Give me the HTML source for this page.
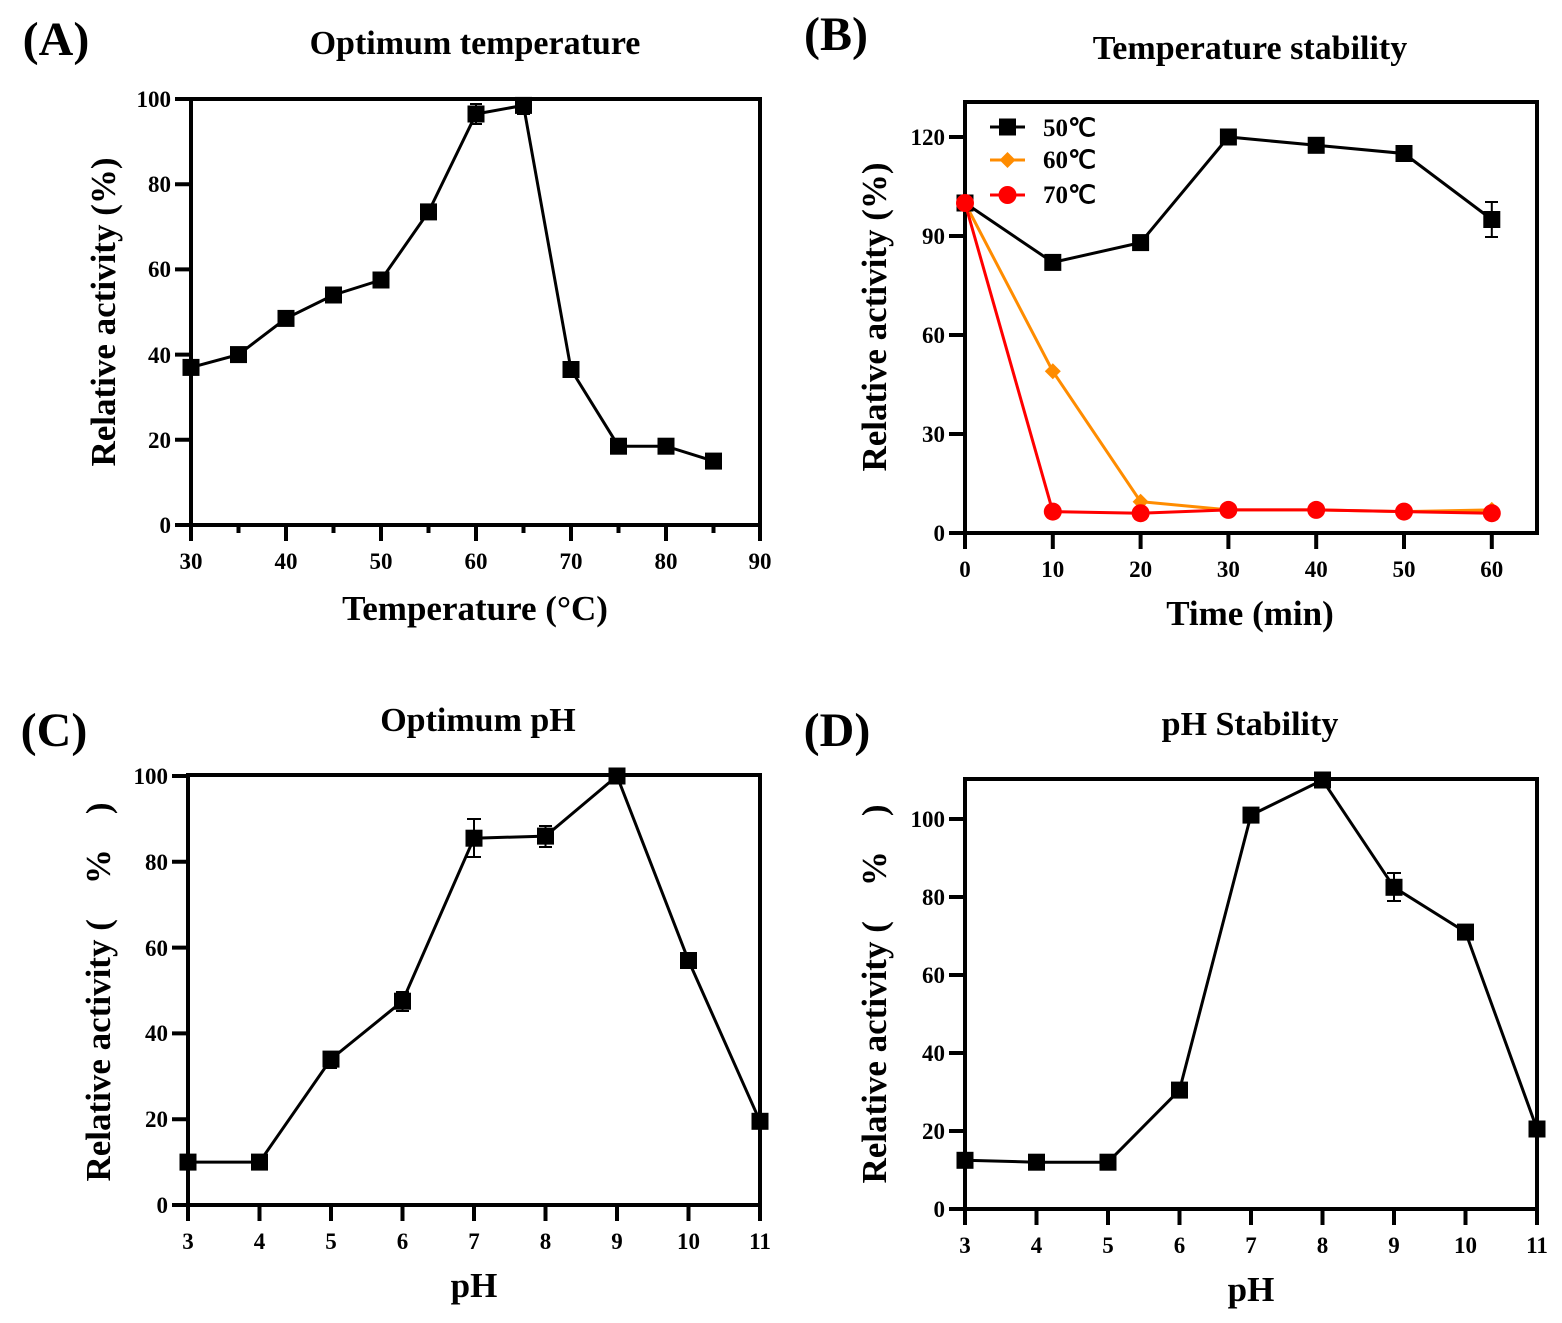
<!DOCTYPE html>
<html><head><meta charset="utf-8"><style>
body{margin:0;background:#fff}
svg{display:block}
text{font-family:"Liberation Serif",serif;font-weight:bold;fill:#000}
.t{font-size:23px}
.lbl{font-size:35px}
.ttl{font-size:34px}
.pl{font-size:48px}
</style></head><body>
<svg width="1562" height="1323" viewBox="0 0 1562 1323" xmlns="http://www.w3.org/2000/svg">
<g stroke="#000" fill="none">
<path d="M191 99 V525 H760 M191 99 H760 V525" stroke-width="4"/>
<path d="M191 525 V541 M286 525 V541 M381 525 V541 M476 525 V541 M571 525 V541 M666 525 V541 M760 525 V541 M238.5 525 V533 M333.5 525 V533 M428.5 525 V533 M523.5 525 V533 M618.5 525 V533 M713.5 525 V533" stroke-width="4"/>
<path d="M175 525 H191 M175 439.8 H191 M175 354.6 H191 M175 269.4 H191 M175 184.2 H191 M175 99 H191" stroke-width="4"/>
<polyline stroke-width="3" points="191,367.4 238.5,354.6 286,318.4 333.5,295 381,280 428.5,211.9 476,114 523.5,105.4 571,369.5 618.5,446.2 666,446.2 713.5,461.1"/>
<path d="M476 104V124 M470 104H482 M470 124H482 M523.5 97V114 M517 114H530" stroke-width="2"/>
<path d="M965 102 V533 H1537 V102 Z" stroke-width="4"/>
<path d="M965 533 V549 M1052.8 533 V549 M1140.6 533 V549 M1228.4 533 V549 M1316.2 533 V549 M1404 533 V549 M1491.8 533 V549" stroke-width="4"/>
<path d="M949 533 H965 M949 434 H965 M949 335 H965 M949 236 H965 M949 137 H965" stroke-width="4"/>
<polyline stroke-width="3" points="965,203 1052.8,262.4 1140.6,242.6 1228.4,137 1316.2,145.3 1404,153.5 1491.8,219.5"/>
<path d="M1491.8 202V237 M1485 202H1498 M1485 237H1498" stroke-width="2"/>
<polyline stroke="#ff8c00" stroke-width="3" points="965,203 1052.8,371.3 1140.6,501.7 1228.4,509.9 1316.2,509.9 1404,511.6 1491.8,509.9"/>
<polyline stroke="#ff0000" stroke-width="3" points="965,203 1052.8,511.6 1140.6,513.2 1228.4,509.9 1316.2,509.9 1404,511.6 1491.8,513.2"/>
<path d="M990 127H1025" stroke-width="3"/>
<path d="M990 160H1025" stroke="#ff8c00" stroke-width="3"/>
<path d="M990 195H1025" stroke="#ff0000" stroke-width="3"/>
<path d="M188 775 V1205 H760 V775 Z" stroke-width="4"/>
<path d="M188 1205 V1221 M259.5 1205 V1221 M331 1205 V1221 M402.5 1205 V1221 M474 1205 V1221 M545.5 1205 V1221 M617 1205 V1221 M688.5 1205 V1221 M760 1205 V1221" stroke-width="4"/>
<path d="M172 1205 H188 M172 1119.2 H188 M172 1033.4 H188 M172 947.6 H188 M172 861.8 H188 M172 776 H188" stroke-width="4"/>
<polyline stroke-width="3" points="188,1162.1 259.5,1162.1 331,1059.1 402.5,1001.2 474,838.2 545.5,836.1 617,776 688.5,960.5 760,1121.3"/>
<path d="M474 819V857 M467 819H481 M467 857H481 M545.5 826V847 M539 826H552 M539 847H552 M402.5 992V1011 M396 992H409 M396 1011H409 M331 1051V1068 M325 1068H337" stroke-width="2"/>
<path d="M965 779 V1209 H1537 V779 Z" stroke-width="4"/>
<path d="M965 1209 V1225 M1036.5 1209 V1225 M1108 1209 V1225 M1179.5 1209 V1225 M1251 1209 V1225 M1322.5 1209 V1225 M1394 1209 V1225 M1465.5 1209 V1225 M1537 1209 V1225" stroke-width="4"/>
<path d="M949 1209 H965 M949 1131 H965 M949 1053 H965 M949 975 H965 M949 897 H965 M949 819 H965" stroke-width="4"/>
<polyline stroke-width="3" points="965,1160.3 1036.5,1162.2 1108,1162.2 1179.5,1090.1 1251,815.1 1322.5,780 1394,887.3 1465.5,932.1 1537,1129"/>
<path d="M1394 873V901 M1387 873H1401 M1387 901H1401" stroke-width="2"/>
</g>
<g fill="#000">
<rect x="182.5" y="358.9" width="17" height="17"/><rect x="230" y="346.1" width="17" height="17"/><rect x="277.5" y="309.9" width="17" height="17"/><rect x="325" y="286.5" width="17" height="17"/><rect x="372.5" y="271.5" width="17" height="17"/><rect x="420" y="203.4" width="17" height="17"/><rect x="467.5" y="105.5" width="17" height="17"/><rect x="515" y="96.9" width="17" height="17"/><rect x="562.5" y="361" width="17" height="17"/><rect x="610" y="437.7" width="17" height="17"/><rect x="657.5" y="437.7" width="17" height="17"/><rect x="705" y="452.6" width="17" height="17"/>
<rect x="956.5" y="194.5" width="17" height="17"/><rect x="1044.3" y="253.9" width="17" height="17"/><rect x="1132.1" y="234.1" width="17" height="17"/><rect x="1219.9" y="128.5" width="17" height="17"/><rect x="1307.7" y="136.8" width="17" height="17"/><rect x="1395.5" y="145" width="17" height="17"/><rect x="1483.3" y="211" width="17" height="17"/>
<rect x="999" y="118.5" width="17" height="17"/>
<g fill="#ff8c00">
<path d="M1052.8 363.3l8 8-8 8-8-8z M1140.6 493.7l8 8-8 8-8-8z M1228.4 501.9l8 8-8 8-8-8z M1316.2 501.9l8 8-8 8-8-8z M1404 503.6l8 8-8 8-8-8z M1491.8 501.9l8 8-8 8-8-8z M1007.5 152l8 8-8 8-8-8z"/>
</g>
<g fill="#ff0000">
<circle cx="965" cy="203" r="9"/><circle cx="1052.8" cy="511.6" r="9"/><circle cx="1140.6" cy="513.2" r="9"/><circle cx="1228.4" cy="509.9" r="9"/><circle cx="1316.2" cy="509.9" r="9"/><circle cx="1404" cy="511.6" r="9"/><circle cx="1491.8" cy="513.2" r="9"/><circle cx="1007.5" cy="195" r="9"/>
</g>
<rect x="179.5" y="1153.6" width="17" height="17"/><rect x="251" y="1153.6" width="17" height="17"/><rect x="322.5" y="1050.6" width="17" height="17"/><rect x="394" y="992.7" width="17" height="17"/><rect x="465.5" y="829.7" width="17" height="17"/><rect x="537" y="827.6" width="17" height="17"/><rect x="608.5" y="767.5" width="17" height="17"/><rect x="680" y="952" width="17" height="17"/><rect x="751.5" y="1112.8" width="17" height="17"/>
<rect x="956.5" y="1151.8" width="17" height="17"/><rect x="1028" y="1153.7" width="17" height="17"/><rect x="1099.5" y="1153.7" width="17" height="17"/><rect x="1171" y="1081.6" width="17" height="17"/><rect x="1242.5" y="806.6" width="17" height="17"/><rect x="1314" y="771.5" width="17" height="17"/><rect x="1385.5" y="878.8" width="17" height="17"/><rect x="1457" y="923.6" width="17" height="17"/><rect x="1528.5" y="1120.5" width="17" height="17"/>
</g>
<text class="pl" x="56" y="55" text-anchor="middle">(A)</text>
<text class="ttl" x="475" y="54" text-anchor="middle">Optimum temperature</text>
<g class="t" text-anchor="end"><text x="171" y="533">0</text><text x="171" y="448">20</text><text x="171" y="363">40</text><text x="171" y="277">60</text><text x="171" y="192">80</text><text x="171" y="107">100</text></g>
<g class="t" text-anchor="middle"><text x="191" y="569">30</text><text x="286" y="569">40</text><text x="381" y="569">50</text><text x="476" y="569">60</text><text x="571" y="569">70</text><text x="666" y="569">80</text><text x="760" y="569">90</text></g>
<text class="lbl" x="475" y="620" text-anchor="middle">Temperature (°C)</text>
<text class="lbl" transform="translate(115 312) rotate(-90)" text-anchor="middle">Relative activity (%)</text>
<text class="pl" x="836" y="50" text-anchor="middle">(B)</text>
<text class="ttl" x="1250" y="59" text-anchor="middle">Temperature stability</text>
<g class="t" text-anchor="end"><text x="945" y="541">0</text><text x="945" y="442">30</text><text x="945" y="343">60</text><text x="945" y="244">90</text><text x="945" y="145">120</text></g>
<g class="t" text-anchor="middle"><text x="965" y="577">0</text><text x="1052.8" y="577">10</text><text x="1140.6" y="577">20</text><text x="1228.4" y="577">30</text><text x="1316.2" y="577">40</text><text x="1404" y="577">50</text><text x="1491.8" y="577">60</text></g>
<g class="t" style="font-size:25px"><text x="1043" y="136">50℃</text><text x="1043" y="168">60℃</text><text x="1043" y="203">70℃</text></g>
<text class="lbl" x="1250" y="625" text-anchor="middle">Time (min)</text>
<text class="lbl" transform="translate(886 317) rotate(-90)" text-anchor="middle">Relative activity (%)</text>
<text class="pl" x="54" y="746" text-anchor="middle">(C)</text>
<text class="ttl" x="478" y="731" text-anchor="middle">Optimum pH</text>
<g class="t" text-anchor="end"><text x="168" y="1213">0</text><text x="168" y="1127">20</text><text x="168" y="1041">40</text><text x="168" y="956">60</text><text x="168" y="870">80</text><text x="168" y="784">100</text></g>
<g class="t" text-anchor="middle"><text x="188" y="1249">3</text><text x="259.5" y="1249">4</text><text x="331" y="1249">5</text><text x="402.5" y="1249">6</text><text x="474" y="1249">7</text><text x="545.5" y="1249">8</text><text x="617" y="1249">9</text><text x="688.5" y="1249">10</text><text x="760" y="1249">11</text></g>
<text class="lbl" x="474" y="1297" text-anchor="middle">pH</text>
<text class="lbl" transform="translate(110 992) rotate(-90)" text-anchor="middle">Relative activity (　%　)</text>
<text class="pl" x="837" y="746" text-anchor="middle">(D)</text>
<text class="ttl" x="1250" y="735" text-anchor="middle">pH Stability</text>
<g class="t" text-anchor="end"><text x="945" y="1217">0</text><text x="945" y="1139">20</text><text x="945" y="1061">40</text><text x="945" y="983">60</text><text x="945" y="905">80</text><text x="945" y="827">100</text></g>
<g class="t" text-anchor="middle"><text x="965" y="1253">3</text><text x="1036.5" y="1253">4</text><text x="1108" y="1253">5</text><text x="1179.5" y="1253">6</text><text x="1251" y="1253">7</text><text x="1322.5" y="1253">8</text><text x="1394" y="1253">9</text><text x="1465.5" y="1253">10</text><text x="1537" y="1253">11</text></g>
<text class="lbl" x="1251" y="1301" text-anchor="middle">pH</text>
<text class="lbl" transform="translate(886 994) rotate(-90)" text-anchor="middle">Relative activity (　%　)</text>
</svg>
</body></html>
